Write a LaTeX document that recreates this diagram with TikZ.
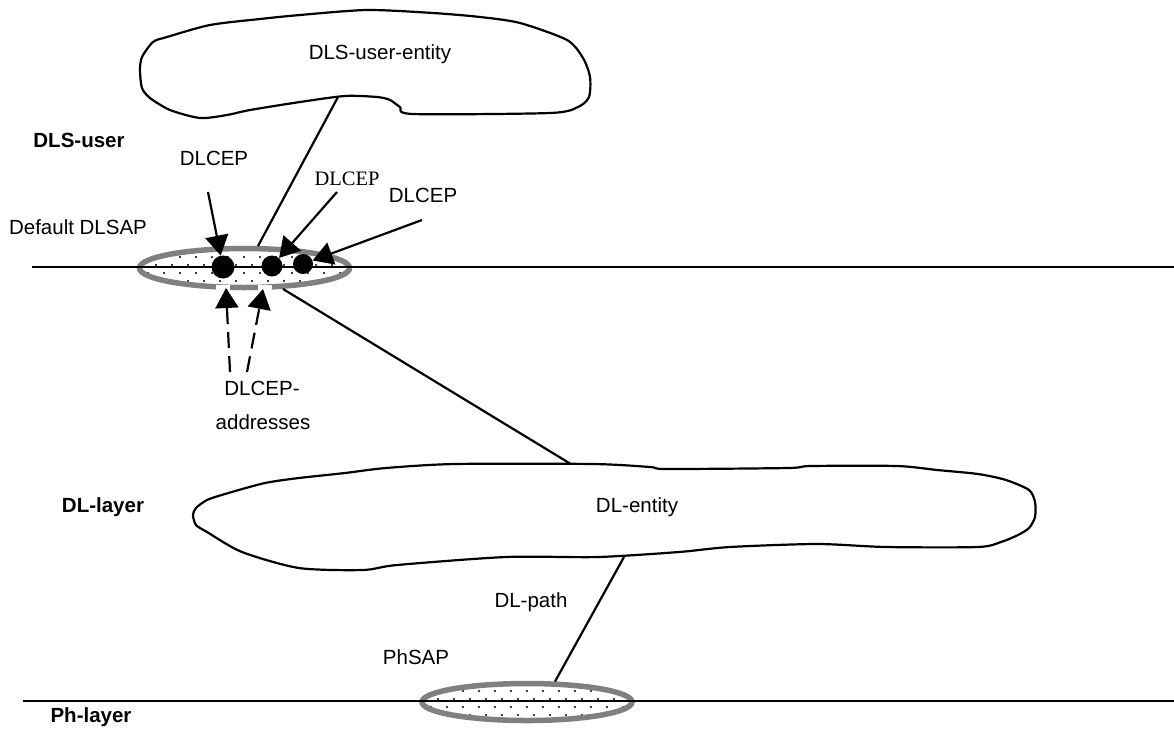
\documentclass[tikz,border=0pt]{standalone}
\usepackage{fontspec}
\setmainfont{Liberation Sans}
\newfontfamily\tnr{Liberation Serif}
\usetikzlibrary{arrows.meta,shapes.geometric}
\definecolor{sapgray}{RGB}{128,128,128}
\begin{document}
\begin{tikzpicture}[x=1pt,y=-1pt,
  lbl/.style={inner sep=0pt, anchor=base, font=\fontsize{20.5}{24}\selectfont},
  blbl/.style={inner sep=0pt, anchor=base, font=\fontsize{20.5}{24}\selectfont\bfseries},
  wire/.style={line width=2.2pt},
  sap/.style={ellipse, draw=sapgray, line width=5.5pt, minimum width=210pt, minimum height=39pt, inner sep=0pt, outer sep=0pt},
  cep/.style={circle, fill=black, inner sep=0pt},
  ptr/.style={wire, -{Triangle[length=20pt,width=23pt]}},
  dptr/.style={ptr, dash pattern=on 16pt off 8pt},
  cloudline/.style={draw, line width=2.2pt, line join=round}]
\useasboundingbox (0,0) rectangle (1174,729);

% dotted fillings of the SAPs
\begin{scope}
  \clip (244.5,268) ellipse [x radius=105, y radius=19.5];
  \foreach \y in {257,273} \foreach \x in {132,148,...,360} \fill (\x,\y) circle [radius=1.1];
  \foreach \y in {249,265,281} \foreach \x in {140,156,...,360} \fill (\x,\y) circle [radius=1.1];
\end{scope}
\begin{scope}
  \clip (527,702) ellipse [x radius=105, y radius=18.5];
  \foreach \y in {691,707} \foreach \x in {415,431,...,640} \fill (\x,\y) circle [radius=1.1];
  \foreach \y in {683,699,715} \foreach \x in {422,438,...,640} \fill (\x,\y) circle [radius=1.1];
\end{scope}

% SAP rings
\node[sap] (dsap) at (244.5,268) {};
\node[sap, minimum height=37pt] (psap) at (527,702) {};
\fill[white] (216,285) rectangle (230,294);
\fill[white] (258,285) rectangle (272,294);

% layer boundaries
\draw[wire] (32,267) -- (1174,267);
\draw[wire] (23,701) -- (1174,701);

% DLS-user-entity cloud
\draw[cloudline] plot[smooth cycle, tension=0.45] coordinates {
  (140,70) (142,57) (153,42) (167,37) (210,25) (260,19) (300,15) (367,10)
  (433,13) (480,17) (520,23) (567,40) (583,58) (590,77) (589,97) (578,107)
  (550,113) (413,114) (400,107) (390,100) (377,97) (345,96) (300,102)
  (250,110) (227,115) (200,118) (170,110) (150,98) (142,88)};
\node[lbl] (ue) at (380,59) {DLS-user-entity};

% DL-entity cloud
\draw[cloudline] plot[smooth cycle, tension=0.45] coordinates {
  (193,515) (196,508) (207,500) (225,494) (265,483) (299,478) (345,473)
  (386,468) (455,464) (593,464) (650,467) (667,469) (788,468) (811,466)
  (897,466) (937,470) (978,474) (1006,480) (1029,490) (1035,502) (1035,517)
  (1029,528) (1018,535) (1001,542) (978,547) (886,547) (817,544) (730,547)
  (679,552) (598,557) (506,557) (397,565) (363,570) (299,568) (242,552)
  (207,532) (196,525)};
\node[lbl] (dle) at (637,512) {DL-entity};

% connectors
\coordinate (ueb) at (338,97);
\coordinate (sapt) at (258,246);
\draw[wire] (ueb) -- (sapt);
\coordinate (sapb) at (283,289);
\coordinate (dlt) at (570,463.5);
\draw[wire] (sapb) -- (dlt);
\coordinate (dlb) at (624,557);
\coordinate (psapt) at (555,681.5);
\draw[wire] (dlb) -- (psapt);

% DLCEPs
\node[cep, minimum size=23pt] (c1) at (223,267) {};
\node[cep, minimum size=21pt] (c2) at (272,266) {};
\node[cep, minimum size=20pt] (c3) at (303,264) {};
\coordinate (t1) at (208,192);
\coordinate (t2) at (337,192);
\coordinate (t3) at (422,220);
\draw[ptr] (t1) -- (c1);
\draw[ptr] (t2) -- (c2);
\draw[ptr] (t3) -- (c3);

% DLCEP-address pointers
\coordinate (d1s) at (230,372);
\coordinate (d1e) at (226,288);
\coordinate (d2s) at (247,372);
\coordinate (d2e) at (263,289);
\draw[dptr] (d1s) -- (d1e);
\draw[dptr] (d2s) -- (d2e);

% labels
\node[blbl] (dlsu) at (79,147) {DLS-user};
\node[lbl] (l1) at (214,165) {DLCEP};
\node[lbl, font=\fontsize{20.5}{24}\selectfont\tnr] (l2) at (347,185) {DLCEP};
\node[lbl] (l3) at (423,202) {DLCEP};
\node[lbl] (dflt) at (78,234) {Default DLSAP};
\node[lbl] (addr1) at (262,395) {DLCEP-};
\node[lbl] (addr2) at (263,429) {addresses};
\node[blbl] (dll) at (103,512) {DL-layer};
\node[lbl] (dlp) at (531,607) {DL-path};
\node[lbl] (phs) at (416,664) {PhSAP};
\node[blbl] (phl) at (91,722) {Ph-layer};
\end{tikzpicture}
\end{document}
